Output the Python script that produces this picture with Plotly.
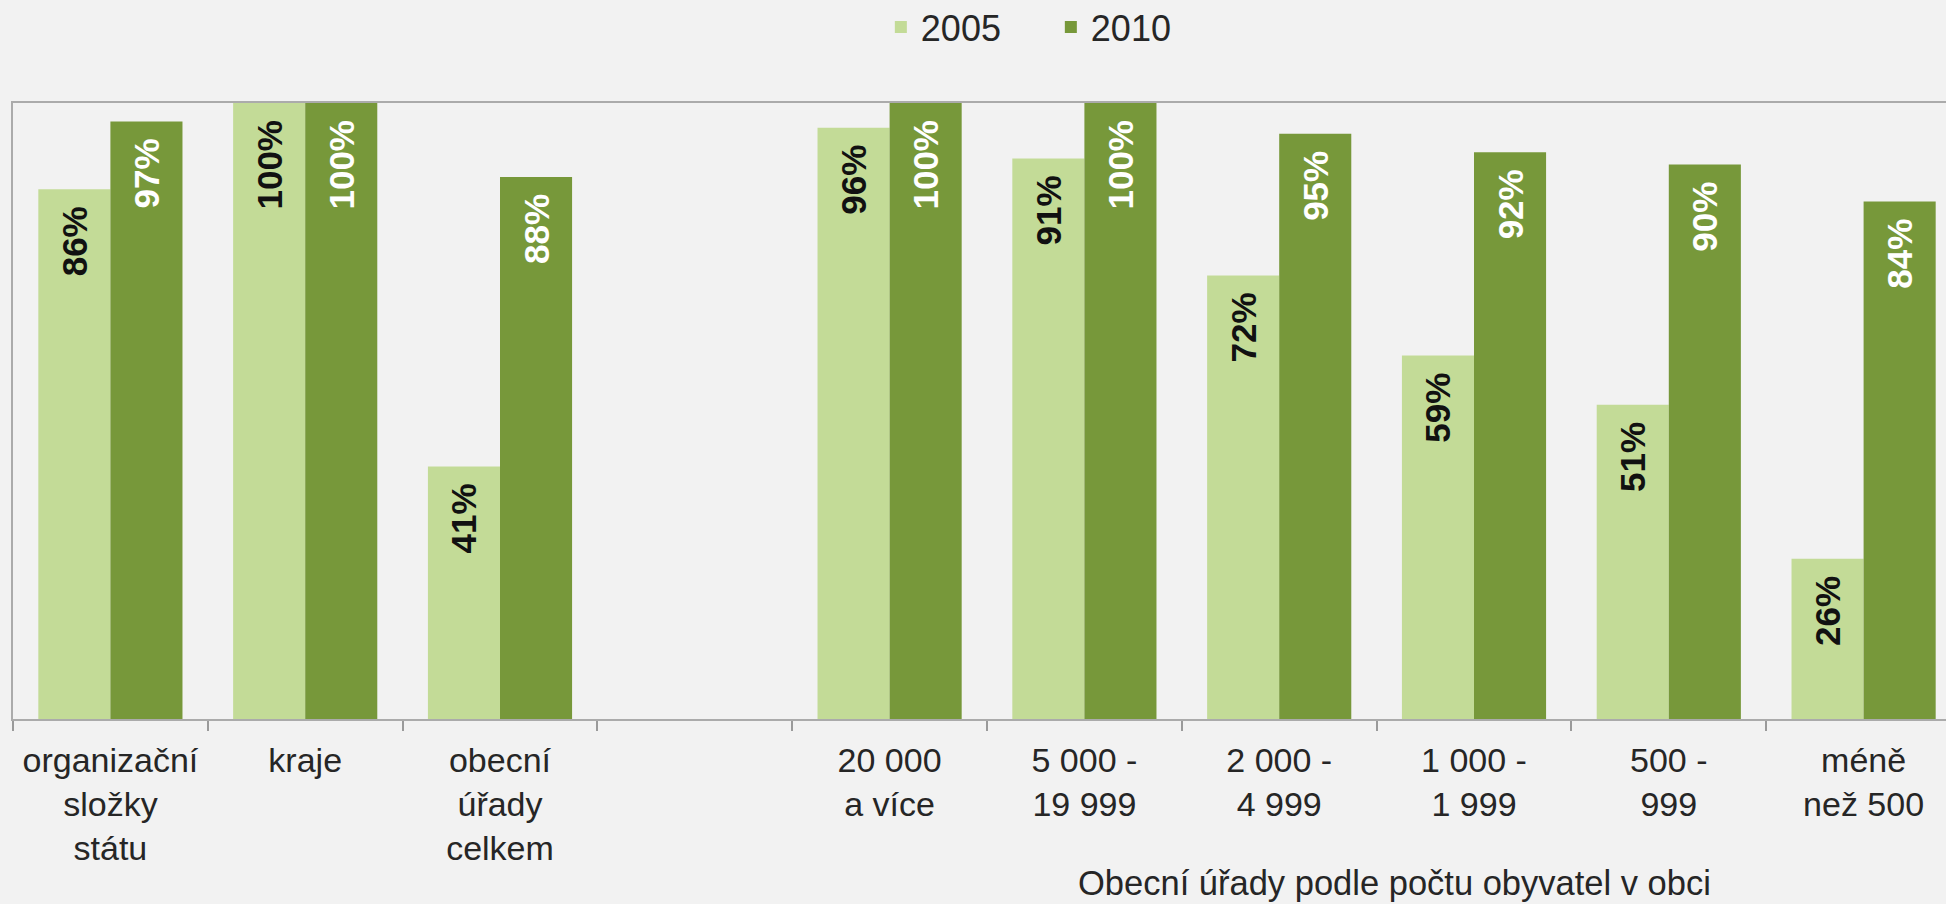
import plotly.graph_objects as go

categories = [
    "organizační<br>složky<br>státu",
    "kraje",
    "obecní<br>úřady<br>celkem",
    " ",
    "20 000<br>a více",
    "5 000 -<br>19 999",
    "2 000 -<br>4 999",
    "1 000 -<br>1 999",
    "500 -<br>999",
    "méně<br>než 500",
]
series_names = ["2005", "2010"]
values_2005 = [86, 100, 41, None, 96, 91, 72, 59, 51, 26]
values_2010 = [97, 100, 88, None, 100, 100, 95, 92, 90, 84]
group_title = "Obecní úřady podle počtu obyvatel v obci"

FONT = "Liberation Sans, Arial, sans-serif"
LIGHT = "#c3db97"
DARK = "#77983a"
BG = "#f2f2f2"

W, H = 1946, 904
ML, MT, MB = 13, 103, 185
plot_h = H - MT - MB

label_tpl = "%{y}%\u2009\u2009"

fig = go.Figure()
fig.add_trace(go.Bar(
    name=series_names[0], x=categories, y=values_2005,
    marker=dict(color=LIGHT, line=dict(width=0)),
    texttemplate=label_tpl, textposition="inside", insidetextanchor="end",
    textangle=-90, constraintext="none",
    textfont=dict(family=FONT, size=35, color="#111111", weight="bold"),
))
fig.add_trace(go.Bar(
    name=series_names[1], x=categories, y=values_2010,
    marker=dict(color=DARK, line=dict(width=0)),
    texttemplate=label_tpl, textposition="inside", insidetextanchor="end",
    textangle=-90, constraintext="none",
    textfont=dict(family=FONT, size=35, color="#ffffff", weight="bold"),
))

cat_w = 194.8
x_end = -0.5 + (W - ML) / cat_w

fig.update_layout(
    width=W, height=H,
    paper_bgcolor=BG, plot_bgcolor=BG,
    margin=dict(l=ML, r=0, t=MT, b=MB),
    barmode="group", bargap=0.26, bargroupgap=0,
    font=dict(family=FONT, size=34, color="#262626"),
    showlegend=True,
    legend=dict(
        orientation="h", xref="container", yref="container",
        x=0.540, xanchor="center", y=1 - 27 / H, yanchor="middle",
        font=dict(family=FONT, size=36, color="#262626"),
        bgcolor="rgba(0,0,0,0)", entrywidth=125,
    ),
    xaxis=dict(
        type="category", range=[-0.5, x_end],
        showline=True, linecolor="#ababab", linewidth=2, mirror=True,
        ticks="outside", tickson="boundaries", ticklen=10, tickcolor="#9a9a9a", tickwidth=1.5,
        ticklabelstandoff=10,
        showgrid=False, tickfont=dict(family=FONT, size=34, color="#262626"),
    ),
    yaxis=dict(
        range=[0, 100], showline=True, linecolor="#ababab", linewidth=2,
        showgrid=False, zeroline=False, showticklabels=False, ticks="",
    ),
    annotations=[dict(
        text=group_title, x=6.59, xref="x", y=-(883 - (H - MB)) / plot_h, yref="paper",
        xanchor="center", yanchor="middle", showarrow=False,
        font=dict(family=FONT, size=34.5, color="#262626"),
    )],
)

fig.write_html(
    "out.html",
    config={"displayModeBar": False},
    post_script="document.body.style.margin='0';document.body.style.overflow='hidden';",
)
